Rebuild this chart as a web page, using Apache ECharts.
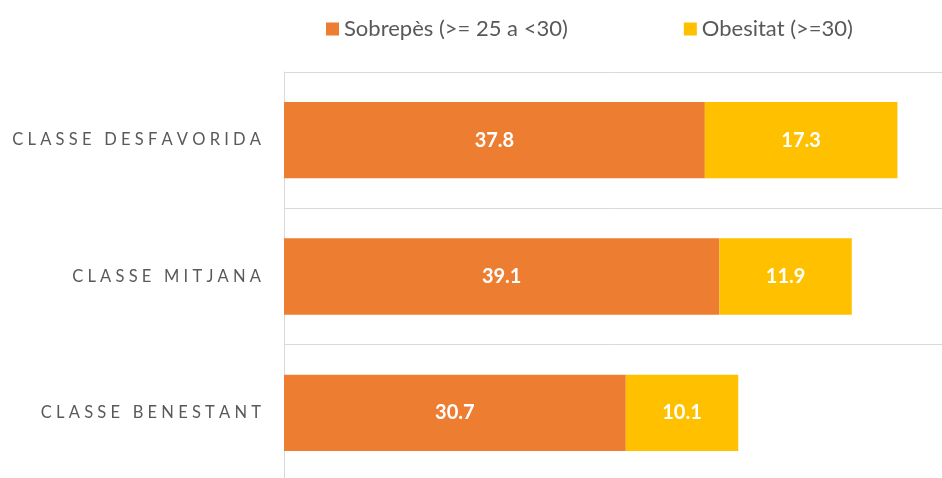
<!DOCTYPE html>
<html>
<head>
<meta charset="utf-8">
<script src="https://cdn.jsdelivr.net/npm/echarts@6/dist/echarts.min.js"></script>
<style>
  html, body { margin: 0; padding: 0; background: #fff; }
  #main { width: 942px; height: 478px; }
</style>
</head>
<body>
<div id="main"></div>
<script>
// categories, top to bottom
var categories = ['CLASSE DESFAVORIDA', 'CLASSE MITJANA', 'CLASSE BENESTANT']
var seriesNames = ['Sobrepès (>= 25 a <30)', 'Obesitat (>=30)']
var sobrepes = [37.8, 39.1, 30.7]
var obesitat = [17.3, 11.9, 10.1]
var colors = ['#ED7D31', '#FFC000']

// spread letters out like the original letter-spaced labels
function spaced(s) {
  return s.split(' ').map(function (w) { return w.split('').join(' ') }).join('   ')
}

var chart = echarts.init(document.getElementById('main'))

var labelStyle = {
  show: true,
  position: 'inside',
  color: '#fff',
  fontFamily: 'Lato',
  fontWeight: 'bold',
  fontSize: 20,
  formatter: function (p) { return p.value.toFixed(1) }
}

chart.setOption({
  animation: false,
  color: colors,
  legend: {
    top: 13,
    left: 321,
    itemWidth: 13,
    itemHeight: 13,
    itemGap: 116,
    icon: 'rect',
    textStyle: { fontFamily: 'Lato', fontSize: 22, color: '#595959' },
    data: seriesNames
  },
  grid: {
    left: 284,
    right: -10,
    top: 72,
    bottom: -3,
    outerBoundsMode: 'none'
  },
  xAxis: {
    type: 'value',
    min: 0,
    max: 60,
    show: false
  },
  yAxis: {
    type: 'category',
    inverse: true,
    data: categories,
    axisLine: { show: true, lineStyle: { color: '#d9d9d9', width: 1 } },
    axisTick: { show: false },
    splitLine: { show: true, lineStyle: { color: '#d9d9d9', width: 1 } },
    axisLabel: {
      margin: 23,
      color: '#595959',
      fontFamily: 'Lato',
      fontSize: 16.5,
      formatter: function (v) { return spaced(v) }
    }
  },
  series: [
    {
      name: seriesNames[0],
      type: 'bar',
      stack: 'total',
      barCategoryGap: '44%',
      data: sobrepes,
      label: labelStyle
    },
    {
      name: seriesNames[1],
      type: 'bar',
      stack: 'total',
      barCategoryGap: '44%',
      data: obesitat,
      label: labelStyle
    }
  ]
})
</script>
</body>
</html>
